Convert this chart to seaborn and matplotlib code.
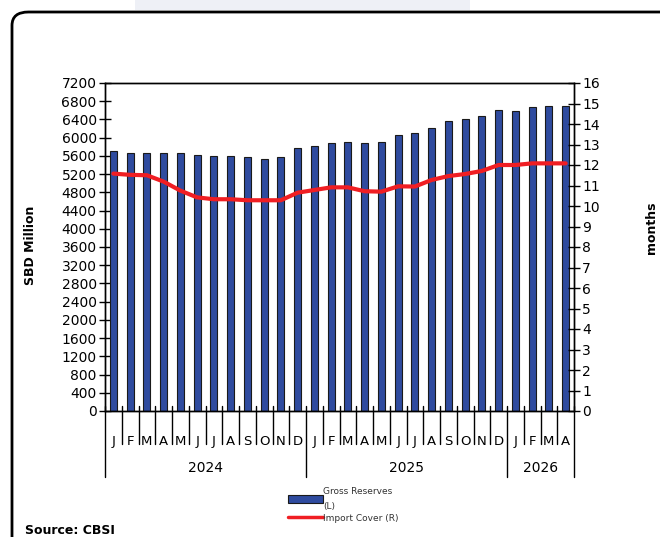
import matplotlib
matplotlib.use("Agg")
import matplotlib.pyplot as plt
import matplotlib.transforms as mtransforms
from matplotlib.patches import FancyBboxPatch, Patch
from matplotlib.lines import Line2D
import seaborn as sns
import numpy as np
import pandas as pd

months = ["J", "F", "M", "A", "M", "J", "J", "A", "S", "O", "N", "D",
          "J", "F", "M", "A", "M", "J", "J", "A", "S", "O", "N", "D",
          "J", "F", "M", "A"]
years = ["2024", "2025", "2026"]
year_counts = [12, 12, 4]
gross_reserves = [5700, 5660, 5660, 5660, 5660, 5630, 5600, 5600, 5570, 5540, 5570, 5780,
                  5820, 5880, 5910, 5880, 5910, 6050, 6110, 6220, 6360, 6415, 6475, 6607,
                  6580, 6665, 6695, 6695]
import_cover = [11.58, 11.52, 11.5, 11.19, 10.75, 10.42, 10.33, 10.33, 10.28, 10.28, 10.28, 10.65,
                10.78, 10.91, 10.91, 10.72, 10.7, 10.96, 10.95, 11.27, 11.46, 11.56, 11.71, 12.0,
                12.0, 12.08, 12.08, 12.08]

sns.set_style("white")
plt.rcParams['font.family'] = ['DejaVu Sans']
plt.rcParams['text.color'] = 'black'
plt.rcParams['xtick.color'] = 'black'
plt.rcParams['ytick.color'] = 'black'

W, H = 660, 537
fig = plt.figure(figsize=(6.6, 5.37), dpi=100)
L, R, T, B = 105, 574, 83, 411
ax = fig.add_axes([L / W, 1 - B / H, (R - L) / W, (B - T) / H])

n = len(gross_reserves)
df = pd.DataFrame({"idx": list(range(n)), "res": gross_reserves, "cov": import_cover})
sns.barplot(data=df, x="idx", y="res", ax=ax, color="#2F4B9F", edgecolor="#1a1a1a",
            linewidth=0.8, width=0.43, saturation=1)
ax.set_xlim(-0.5, n - 0.5)
ax.set_ylim(0, 7200)
ax.set_yticks(np.arange(0, 7201, 400))
ax.set_ylabel("")
ax.set_xlabel("")
for s in ax.spines.values():
    s.set_color("black")
    s.set_linewidth(1.0)
ax.tick_params(axis="y", left=True, direction="inout", length=8, width=1, labelsize=10, pad=2,
               colors="black")

# month labels at bar centres
ax.set_xticks(np.arange(0, n))
ax.set_xticklabels(months, fontsize=9.5)
ax.tick_params(axis="x", bottom=True, length=0, pad=17)

trans = mtransforms.blended_transform_factory(ax.transData, ax.transAxes)
hpx = B - T
pos = -0.5
bounds = [pos]
for c in year_counts:
    pos += c
    bounds.append(pos)
for b in np.arange(-0.5, n, 1.0):
    if b in bounds:
        ax.plot([b, b], [5 / hpx, -66 / hpx], color="black", lw=1, transform=trans, clip_on=False)
    else:
        ax.plot([b, b], [5 / hpx, -33 / hpx], color="black", lw=1, transform=trans, clip_on=False)
for i, y in enumerate(years):
    mid = (bounds[i] + bounds[i + 1]) / 2
    ax.text(mid, -(468 - B) / hpx, y, transform=trans, ha="center", va="center", fontsize=10)

ax2 = ax.twinx()
sns.lineplot(data=df, x="idx", y="cov", ax=ax2, color="#F01E23", linewidth=3.0,
             solid_joinstyle="round", solid_capstyle="round")
ax2.set_ylim(0, 16)
ax2.set_yticks(np.arange(0, 17, 1))
ax2.set_ylabel("")
ax2.set_xlabel("")
ax2.set_xlim(-0.5, n - 0.5)
ax2.tick_params(axis="y", right=True, direction="inout", length=8, width=1, labelsize=10, pad=2,
                colors="black")
for s in ax2.spines.values():
    s.set_color("black")
    s.set_linewidth(1.0)

fig.text(30 / W, 1 - 245 / H, "SBD Million", rotation=90, ha="center", va="center",
         fontsize=9, fontweight="bold")
fig.text(651 / W, 1 - 228 / H, "months", rotation=90, ha="center", va="center",
         fontsize=9, fontweight="bold")

handles = [Patch(facecolor="#2F4B9F", edgecolor="#1a1a1a", linewidth=0.8),
           Line2D([0], [0], color="#F01E23", lw=2.5)]
leg = fig.legend(handles, ["Gross Reserves\n(L)", "Import Cover (R)"],
                 loc="upper left", bbox_to_anchor=(283 / W, 1 - 482 / H), frameon=False,
                 fontsize=6.5, handlelength=3.9, handleheight=0.9, handletextpad=0.05,
                 labelspacing=0.3, borderpad=0)
for t in leg.get_texts():
    t.set_color("#333333")
    t.set_linespacing(1.9)

fig.text(25 / W, 1 - 530 / H, "Source: CBSI", ha="left", va="center", fontsize=9,
         fontweight="bold")

# top light band and frame
fig.patches.append(plt.Rectangle((135 / W, 1 - 10 / H), 335 / W, 10 / H, transform=fig.transFigure,
                                 facecolor="#EEF0F6", edgecolor="none", zorder=0))
frame = FancyBboxPatch((12 / W, -0.1), 1.2, (1 - 12 / H) + 0.1,
                       boxstyle="round,pad=0,rounding_size=0.025", transform=fig.transFigure,
                       facecolor="none", edgecolor="black", linewidth=2.0, clip_on=False)
fig.patches.append(frame)

fig.savefig("out.png", dpi=100)
